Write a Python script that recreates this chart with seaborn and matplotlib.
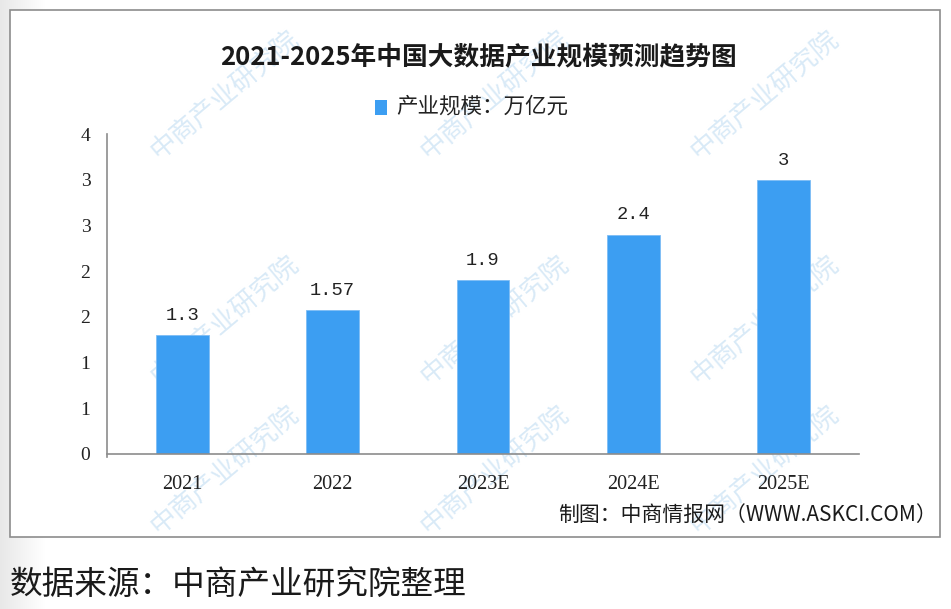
import matplotlib
matplotlib.use("Agg")
import matplotlib.pyplot as plt
import seaborn as sns
import pandas as pd
import numpy as np
from matplotlib.patches import Rectangle

years = ["2021", "2022", "2023E", "2024E", "2025E"]
values = [1.3, 1.57, 1.9, 2.4, 3.0]
value_labels = ["1.3", "1.57", "1.9", "2.4", "3"]
ytick_values = [0, 0.5, 1.0, 1.5, 2.0, 2.5, 3.0, 3.5]
ytick_labels = ["0", "1", "1", "2", "2", "3", "3", "4"]
title = "2021-2025年中国大数据产业规模预测趋势图"
legend_label = "产业规模：万亿元"
credit = "制图：中商情报网（WWW.ASKCI.COM）"
source = "数据来源：中商产业研究院整理"

sns.set_theme(style="white")
plt.rcParams['font.family'] = ['Noto Sans CJK SC', 'DejaVu Sans']

df = pd.DataFrame({"year": years, "value": values})

fig = plt.figure(figsize=(9.51, 6.09), dpi=100)
W, H = 951, 609

# left gradient strip
gax = fig.add_axes([0, 0, 45 / W, 1])
grad = np.linspace(0.91, 1.0, 100).reshape(1, -1)
gax.imshow(np.dstack([grad, grad, grad]), aspect='auto', extent=[0, 1, 0, 1])
gax.axis('off')

# chart box
fig.patches.append(Rectangle((10 / W, 1 - 537 / H), 930 / W, 527 / H,
                             transform=fig.transFigure, facecolor='white',
                             edgecolor='#8c8c8c', linewidth=1.2, zorder=0))

# watermarks
wm_pos = [(225, 95), (495, 95), (765, 95), (225, 320), (495, 320), (765, 320),
          (225, 470), (495, 470), (765, 470)]
for (px, py) in wm_pos:
    fig.text(px / W, 1 - py / H, "中商产业研究院", rotation=40, fontsize=19,
             color='#d9eaf7', ha='center', va='center', zorder=0.5)

ax = fig.add_axes([107 / W, 1 - 454 / H, 752 / W, 320 / H])
ax.set_facecolor('none')
ax.set_zorder(2)
sns.barplot(data=df, x="year", y="value", color="#3C9EF2", width=0.35,
            saturation=1, ax=ax, edgecolor='#7dbdf5', linewidth=0.6)

ax.set_xlim(-0.5, 4.5)
ax.set_ylim(0, 3.5)
ax.set_yticks(ytick_values)
ax.set_yticklabels(ytick_labels, fontsize=14, family=['Liberation Serif', 'DejaVu Serif'])
ax.set_xticks(range(len(years)))
ax.set_xticklabels(years, fontsize=14.5, family=['Liberation Serif', 'DejaVu Serif'])
ax.set_xticks(np.arange(-0.5, 5, 1), minor=True)
ax.tick_params(axis='x', which='major', length=0, pad=15, colors='#222222')
ax.tick_params(axis='x', which='minor', length=8, width=1, color='#8c8c8c', direction='out')
ax.tick_params(axis='y', length=6, width=1, color='#8c8c8c', direction='out', pad=6,
               colors='#222222')
ax.set_xlabel("")
ax.set_ylabel("")
for s in ['top', 'right']:
    ax.spines[s].set_visible(False)
for s in ['left', 'bottom']:
    ax.spines[s].set_color('#8c8c8c')
    ax.spines[s].set_linewidth(1.2)
ax.spines['left'].set_bounds(-0.03, 3.5)

for i, (v, lab) in enumerate(zip(values, value_labels)):
    ax.annotate(lab, (i, v), xytext=(0, 8), textcoords='offset points',
                ha='center', va='bottom', fontsize=13.5, color='#222222',
                family=['Liberation Mono', 'DejaVu Sans Mono'])

fig.text(478 / W, 1 - 57 / H, title, ha='center', va='center', fontsize=18.5,
         fontweight='bold', color='#1a1a1a')

fig.patches.append(Rectangle((375 / W, 1 - 115 / H), 12 / W, 15 / H,
                             transform=fig.transFigure, facecolor='#3C9EF2',
                             edgecolor='none', zorder=3))
fig.text(396 / W, 1 - 107 / H, legend_label, ha='left', va='center', fontsize=15.5,
         color='#222222')

fig.text(937 / W, 1 - 515 / H, credit, ha='right', va='center', fontsize=15,
         color='#1a1a1a')

fig.text(10 / W, 1 - 585 / H, source, ha='left', va='center', fontsize=23.5,
         color='#1a1a1a')

fig.savefig("out.png", dpi=100)
